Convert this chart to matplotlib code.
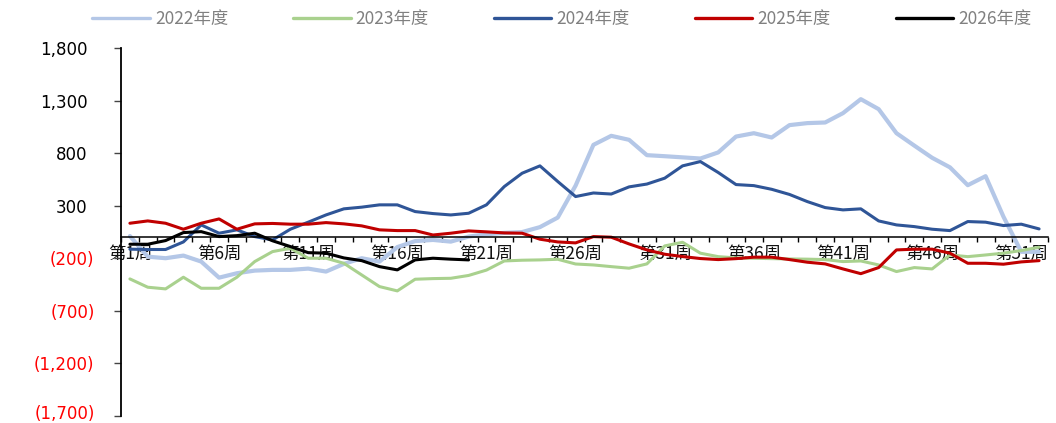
import matplotlib
matplotlib.use('Agg')
import matplotlib.pyplot as plt
import matplotlib.transforms as mtransforms

# ---------------- data ----------------
weeks = list(range(1, 53))
x_label_weeks = [1, 6, 11, 16, 21, 26, 31, 36, 41, 46, 51]
x_labels = [f"第{w}周" for w in x_label_weeks]

series_names = ["2022年度", "2023年度", "2024年度", "2025年度", "2026年度"]

s2022 = [10, -186, -201, -176, -233, -386, -344, -319, -312, -312,
         -300, -328, -255, -201, -233, -95, -38, -27, -43, 5,
         27, 40, 48, 95, 186, 490, 878, 964, 926, 780,
         770, 759, 748, 806, 957, 989, 948, 1066, 1085, 1091,
         1180, 1313, 1218, 989, 871, 755, 664, 494, 580, 195,
         -140, -140]

s2023 = [-398, -477, -493, -382, -487, -487, -382, -233, -138, -106,
         -201, -201, -249, -360, -471, -512, -401, -395, -392, -365,
         -314, -227, -220, -217, -211, -256, -265, -281, -296, -255,
         -84, -49, -153, -186, -198, -201, -205, -208, -210, -214,
         -233, -227, -265, -328, -290, -303, -170, -186, -170, -153,
         -128, -96]

s2024 = [-115, -118, -118, -46, 116, 37, 69, 5, -27, 75,
         142, 211, 269, 285, 307, 307, 243, 224, 211, 227,
         307, 481, 608, 678, 529, 386, 420, 410, 478, 505,
         561, 678, 719, 615, 500, 490, 455, 406, 338, 281,
         259, 269, 154, 116, 100, 75, 62, 148, 142, 110,
         123, 78]

s2025 = [132, 154, 132, 75, 132, 173, 75, 126, 130, 123,
         123, 138, 126, 107, 69, 62, 62, 20, 37, 59,
         50, 40, 37, -20, -46, -55, 5, -1, -65, -122,
         -163, -185, -204, -214, -205, -191, -191, -214, -239, -255,
         -303, -348, -290, -122, -115, -115, -153, -249, -249, -258,
         -236, -224]

s2026 = [-68, -68, -33, 43, 52, 5, 14, 37, -35, -90,
         -148, -153, -198, -224, -281, -312, -217, -201, -210, -217]

y_ticks = [-1700, -1200, -700, -200, 300, 800, 1300, 1800]

colors = ["#B4C7E7", "#A9D18E", "#2F5597", "#C00000", "#000000"]
widths = [3.0, 2.2, 2.2, 2.2, 2.2]

# ---------------- figure ----------------
W, H = 1056, 423
fig = plt.figure(figsize=(W / 100, H / 100), dpi=100)
ax = fig.add_axes([121 / W, 1 - 415.7 / H, (1048 - 121) / W, (415.7 - 48) / H])

all_series = [s2022, s2023, s2024, s2025, s2026]
for name, vals, c, lw in zip(series_names, all_series, colors, widths):
    ax.plot(weeks[:len(vals)], vals, color=c, lw=lw, label=name,
            solid_joinstyle='round', solid_capstyle='round')

ax.set_xlim(0.5, 52.5)
ax.set_ylim(-1700, 1800)

# spines
for s in ["top", "right"]:
    ax.spines[s].set_visible(False)
ax.spines["bottom"].set_position(("data", 0))
ax.spines["bottom"].set_color("black")
ax.spines["bottom"].set_linewidth(1.1)
ax.spines["left"].set_color("black")
ax.spines["left"].set_linewidth(1.3)

# x ticks
ax.set_xticks(x_label_weeks)
ax.set_xticklabels(x_labels, family=["Noto Sans CJK SC", "DejaVu Sans"],
                   fontsize=12.5, color="#111111")
ax.set_xticks([w + 0.5 for w in range(0, 53)], minor=True)
ax.tick_params(axis="x", which="major", length=0, pad=5.5)
ax.tick_params(axis="x", which="minor", length=3.5, width=1.0,
               direction="out", color="black")

# y ticks
def fmt(v):
    s = f"{abs(v):,}"
    return f"({s})" if v < 0 else s

ax.set_yticks(y_ticks)
ax.set_yticklabels([fmt(v) for v in y_ticks], fontsize=12,
                   family="DejaVu Sans")
ax.tick_params(axis="y", length=5, width=1.0, color="#444444", pad=14)
off_pos = mtransforms.ScaledTranslation(-7 / 100, 0, fig.dpi_scale_trans)
off_bottom = mtransforms.ScaledTranslation(0, 4 / 100, fig.dpi_scale_trans)
for v, lab in zip(y_ticks, ax.get_yticklabels()):
    if v < 0:
        lab.set_color("#FF0000")
        if v == min(y_ticks):
            lab.set_transform(lab.get_transform() + off_bottom)
    else:
        lab.set_color("black")
        lab.set_transform(lab.get_transform() + off_pos)

# legend
leg = fig.legend(loc="center", bbox_to_anchor=(562 / W, 1 - 19 / H),
                 ncol=5, frameon=False, handlelength=3.3, handletextpad=0.3,
                 columnspacing=3.75,
                 prop={"family": ["Noto Sans CJK SC", "DejaVu Sans"], "size": 12.5})
for t in leg.get_texts():
    t.set_color("#808080")
for h in leg.get_lines():
    h.set_linewidth(2.4)

fig.savefig("out.png", dpi=100)
